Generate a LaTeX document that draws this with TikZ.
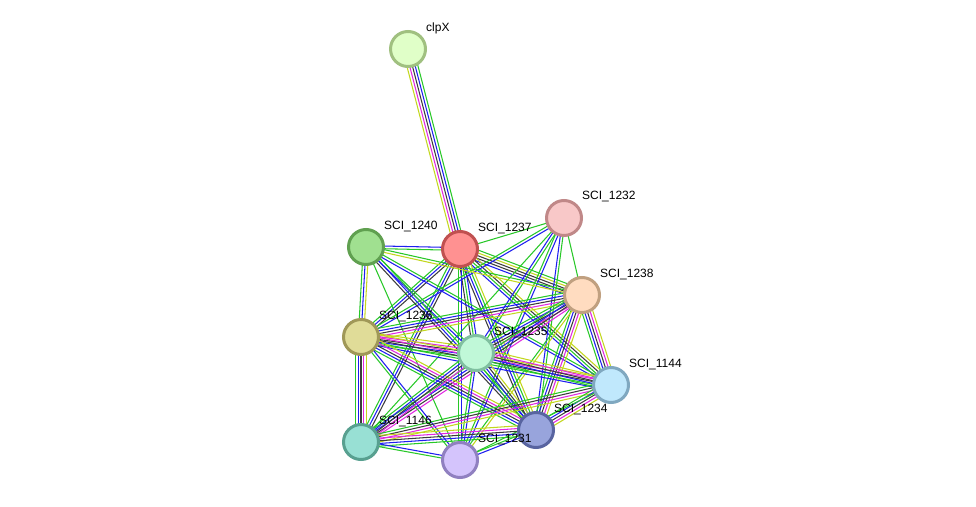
\documentclass[tikz,border=0pt]{standalone}
\usepackage{fontspec}
\setmainfont{Liberation Sans}
\usetikzlibrary{calc}
\pgfdeclarelayer{background}
\pgfsetlayers{background,main}
\definecolor{sg}{RGB}{40,200,40}
\definecolor{sb}{RGB}{30,30,240}
\definecolor{sk}{RGB}{60,60,60}
\definecolor{sm}{RGB}{225,40,225}
\definecolor{sy}{RGB}{195,215,30}
\definecolor{fA}{RGB}{224,255,200}\definecolor{dA}{RGB}{160,192,128}
\definecolor{fB}{RGB}{255,145,145}\definecolor{dB}{RGB}{192,80,80}
\definecolor{fC}{RGB}{248,200,200}\definecolor{dC}{RGB}{192,136,136}
\definecolor{fD}{RGB}{160,224,144}\definecolor{dD}{RGB}{96,160,80}
\definecolor{fE}{RGB}{255,220,192}\definecolor{dE}{RGB}{192,160,128}
\definecolor{fF}{RGB}{224,220,152}\definecolor{dF}{RGB}{160,152,88}
\definecolor{fG}{RGB}{192,248,216}\definecolor{dG}{RGB}{128,192,160}
\definecolor{fH}{RGB}{192,232,252}\definecolor{dH}{RGB}{128,168,192}
\definecolor{fI}{RGB}{152,224,212}\definecolor{dI}{RGB}{88,160,144}
\definecolor{fJ}{RGB}{152,164,220}\definecolor{dJ}{RGB}{88,100,160}
\definecolor{fK}{RGB}{212,196,252}\definecolor{dK}{RGB}{144,128,192}
\newcommand\lnk[3]{%
  \foreach \cc [count=\ii] in {#3} {\xdef\nlst{\ii}}%
  \foreach \cc [count=\ii] in {#3} {%
    \pgfmathsetmacro\off{(\ii-(\nlst+1)/2)*2.7}%
    \draw[color=\cc] ($(#1)!\off pt!90:(#2)$) -- ($(#2)!\off pt!-90:(#1)$);
  }}
\newcommand\prot[5]{%
  \node[protein, fill=f#1, draw=d#1] (#1) at (#2,#3) {};
  \node[lab] (#1l) at (#2+18,#3-21) {#4};}
\tikzset{
  protein/.style={circle, minimum size=35pt, inner sep=0pt, line width=3pt},
  lab/.style={anchor=west, font=\fontsize{12}{14}\selectfont, text=black, inner sep=0pt}
}
\begin{document}
\begin{tikzpicture}[x=1pt,y=-1pt]
\useasboundingbox (0,0) rectangle (976,506);
\prot{A}{408}{49}{clpX}{}
\prot{B}{460}{249}{SCI\_1237}{}
\prot{C}{564}{218}{SCI\_1232}{}
\prot{D}{366}{247}{SCI\_1240}{}
\prot{E}{582}{295}{SCI\_1238}{}
\prot{F}{361}{337}{SCI\_1236}{}
\prot{G}{476}{353}{SCI\_1235}{}
\prot{H}{611}{385}{SCI\_1144}{}
\prot{I}{361}{442}{SCI\_1146}{}
\prot{J}{536}{430}{SCI\_1234}{}
\prot{K}{460}{460}{SCI\_1231}{}
\begin{pgfonlayer}{background}
\fill[white] (0,0) rectangle (976,506);
\begin{scope}[line width=1.05pt]
\lnk{A}{B}{sy,sm,sk,sb,sg}
\lnk{B}{C}{sg}
\lnk{B}{D}{sb,sg}
\lnk{B}{E}{sb,sk,sk,sy,sg}
\lnk{B}{F}{sg,sb,sk}
\lnk{B}{G}{sk,sg,sb}
\lnk{B}{H}{sb,sg,sk,sy}
\lnk{B}{I}{sg,sb,sk}
\lnk{B}{J}{sk,sb,sg,sy}
\lnk{B}{K}{sg,sb}
\lnk{C}{E}{sg}
\lnk{C}{F}{sg,sb}
\lnk{C}{G}{sb,sg}
\lnk{C}{J}{sb,sg}
\lnk{C}{K}{sg,sb}
\lnk{C}{I}{sg}
\lnk{D}{E}{sy,sg}
\lnk{D}{F}{sg,sb,sy}
\lnk{D}{G}{sb,sg}
\lnk{D}{H}{sb,sg}
\lnk{D}{J}{sk,sb,sg}
\lnk{D}{K}{sg}
\lnk{E}{F}{sg,sb,sk,sm,sy}
\lnk{E}{G}{sg,sb,sk,sm}
\lnk{E}{H}{sg,sb,sk,sm,sy}
\lnk{E}{I}{sg,sb,sk,sm}
\lnk{E}{J}{sg,sb,sk,sm,sy}
\lnk{E}{K}{sg,sy}
\lnk{F}{G}{sg,sb,sk,sm,sy}
\lnk{F}{H}{sb,sg,sk,sm,sy}
\lnk{F}{I}{sg,sb,sk,sm,sy}
\lnk{F}{J}{sg,sb,sk,sm,sy}
\lnk{F}{K}{sg,sb}
\lnk{G}{H}{sg,sb,sk,sm,sy}
\lnk{G}{I}{sg,sb,sk,sm}
\lnk{G}{J}{sg,sb,sk,sy}
\lnk{G}{K}{sg,sb}
\lnk{H}{I}{sg,sk,sm,sy}
\lnk{H}{J}{sg,sb,sk,sm,sy}
\lnk{H}{K}{sg}
\lnk{I}{J}{sg,sb,sk,sm,sy}
\lnk{I}{K}{sg,sb}
\lnk{J}{K}{sg,sb}
\end{scope}
\end{pgfonlayer}
\end{tikzpicture}
\end{document}
